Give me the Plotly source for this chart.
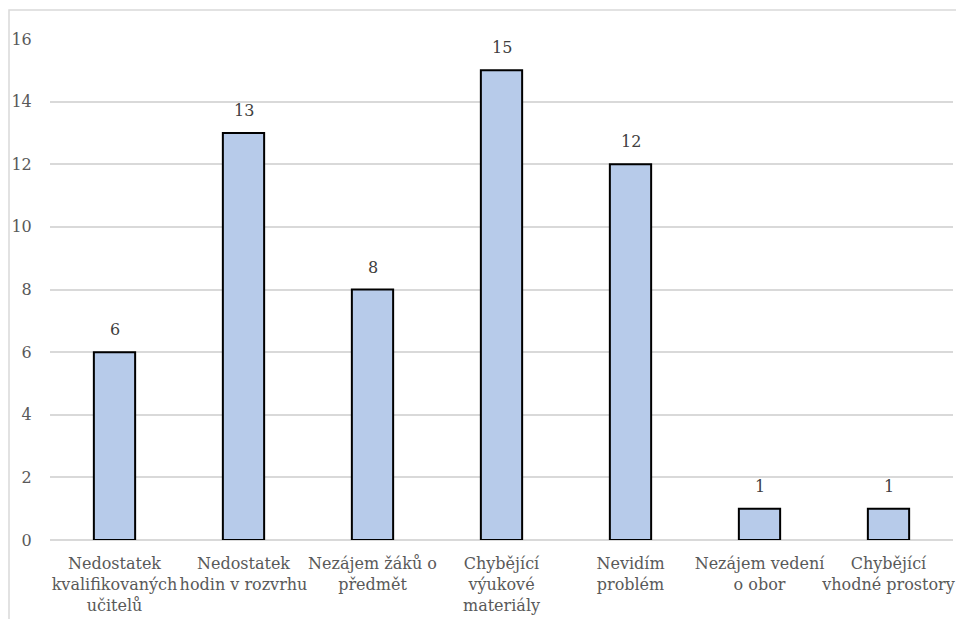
import plotly.graph_objects as go

# Survey: obstacles to teaching the subject (number of responses)
categories = [
    "Nedostatek<br>kvalifikovaných<br>učitelů",
    "Nedostatek<br>hodin v rozvrhu",
    "Nezájem žáků o<br>předmět",
    "Chybějící<br>výukové<br>materiály",
    "Nevidím<br>problém",
    "Nezájem vedení<br>o obor",
    "Chybějící<br>vhodné prostory",
]
counts = [6, 13, 8, 15, 12, 1, 1]
y_ticks = [0, 2, 4, 6, 8, 10, 12, 14, 16]

serif = "DejaVu Serif"

fig = go.Figure(
    go.Bar(
        x=categories,
        y=counts,
        width=0.32,
        marker=dict(color="#B7CBEA", line=dict(color="#000000", width=2)),
        hoverinfo="x+y",
    )
)

# value labels above each bar
for cat, val in zip(categories, counts):
    fig.add_annotation(
        x=cat, y=val, text=str(val), showarrow=False,
        yanchor="bottom", yshift=11,
        font=dict(family=serif, size=16, color="#404040"),
    )

# light frame around the chart area
fig.add_shape(
    type="rect", xref="paper", yref="paper",
    x0=-41 / 903, x1=1.2, y0=-0.3, y1=(619 - 10 - 79) / 501,
    line=dict(color="#D9D9D9", width=1.5), fillcolor="rgba(0,0,0,0)",
    layer="below",
)

fig.update_layout(
    width=956, height=619,
    margin=dict(l=50, r=3, t=39, b=79),
    paper_bgcolor="white", plot_bgcolor="white",
    font=dict(family=serif),
    showlegend=False,
    bargap=0.68,
    xaxis=dict(
        showgrid=False, showline=False, zeroline=False,
        tickfont=dict(family=serif, size=16, color="#595959"),
        ticks="outside", ticklen=9, tickcolor="rgba(0,0,0,0)",
        tickangle=0, automargin=False,
    ),
    yaxis=dict(
        range=[0, 16], tickvals=y_ticks,
        showgrid=True, gridcolor="#D9D9D9", gridwidth=1.5,
        zeroline=True, zerolinecolor="#D9D9D9", zerolinewidth=1.5,
        showline=False,
        tickfont=dict(family=serif, size=16, color="#595959"),
        ticks="outside", ticklen=14, tickcolor="rgba(0,0,0,0)",
        automargin=False,
    ),
)

fig.write_html("out.html")
